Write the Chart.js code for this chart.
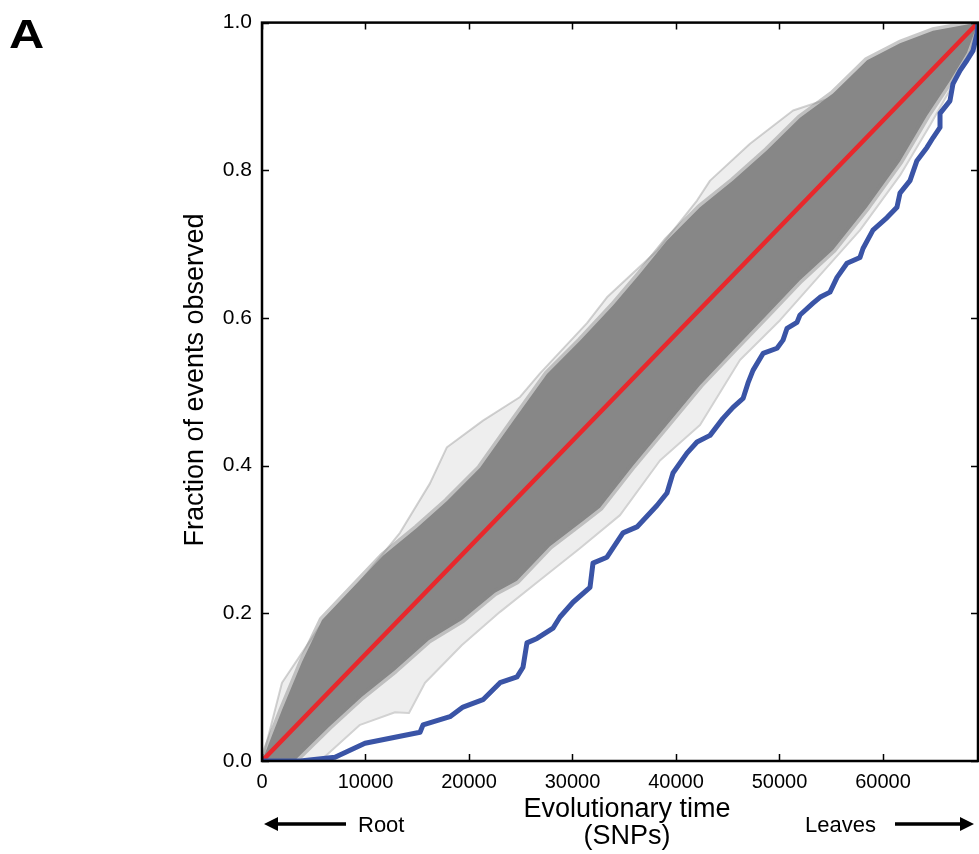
<!DOCTYPE html>
<html lang="en">

<head>
    <meta charset="UTF-8">
    <script src="https://cdn.jsdelivr.net/npm/chart.js@4.4.0/dist/chart.umd.min.js"></script>
    <title>Fraction of events observed</title>
    <style>
        html, body { margin: 0; padding: 0; background: #fff; }
    </style>
</head>

<body>
    <canvas id="myChart" width="979" height="854"></canvas>

    <script>
const xMax = 69180
const xTicks = [0, 10000, 20000, 30000, 40000, 50000, 60000]
const yTicks = [0, 0.2, 0.4, 0.6, 0.8, 1.0]

// observed curve (blue)
const observedX = [0, 3700, 7050, 9950, 15270, 15560, 18160, 19420, 21350, 23000, 24640, 25220, 25600, 26570, 28120, 28790, 30050, 31690, 31980, 33330, 34880, 36230, 38160, 39130, 39710, 41060, 42030, 43290, 44540, 45510, 46480, 46960, 47440, 48410, 49760, 50340, 50730, 51690, 51980, 53240, 53910, 54880, 55560, 56520, 57780, 58070, 59030, 60390, 61350, 61640, 62610, 63280, 64250, 64830, 65510, 65510, 66470, 66760, 67440, 68120, 68700, 69080, 69180]
const observedY = [0, 0, 0.005, 0.024, 0.039, 0.049, 0.060, 0.073, 0.083, 0.106, 0.114, 0.127, 0.160, 0.166, 0.180, 0.195, 0.215, 0.235, 0.268, 0.276, 0.309, 0.317, 0.346, 0.363, 0.390, 0.417, 0.432, 0.441, 0.464, 0.479, 0.491, 0.512, 0.529, 0.552, 0.559, 0.570, 0.586, 0.594, 0.604, 0.620, 0.628, 0.635, 0.655, 0.674, 0.682, 0.694, 0.719, 0.736, 0.750, 0.769, 0.786, 0.813, 0.831, 0.844, 0.858, 0.877, 0.894, 0.917, 0.935, 0.949, 0.962, 0.985, 1.0]

// expected (red)
const expectedX = [0, 69180]
const expectedY = [0, 1]

// dense part of the randomised curves (grey band)
const bandUpperX = [0, 1930, 3860, 5800, 8500, 11690, 14980, 17870, 21060, 24250, 27530, 30720, 33910, 36520, 39130, 42320, 45510, 48790, 51980, 55170, 58460, 61640, 64830, 69180]
const bandUpperY = [0, 0.069, 0.134, 0.191, 0.231, 0.278, 0.316, 0.352, 0.397, 0.460, 0.524, 0.569, 0.617, 0.660, 0.705, 0.750, 0.786, 0.827, 0.871, 0.904, 0.949, 0.972, 0.989, 1.0]
const bandLowerX = [0, 3190, 6470, 9660, 12850, 16140, 19320, 22510, 24640, 27830, 31020, 32660, 35850, 39130, 42320, 45510, 48790, 51980, 55170, 58460, 61640, 64250, 66470, 68120, 69180]
const bandLowerY = [0, 0.001, 0.046, 0.087, 0.123, 0.164, 0.191, 0.228, 0.244, 0.291, 0.325, 0.343, 0.400, 0.455, 0.509, 0.556, 0.604, 0.651, 0.692, 0.750, 0.812, 0.874, 0.921, 0.959, 1.0]

// outermost randomised curves (light grey)
const outerUpperX = [0, 1930, 5510, 9370, 13330, 16230, 17870, 21350, 24930, 26860, 31400, 33330, 38160, 42030, 43290, 47150, 51310, 55170, 61640, 69180]
const outerUpperY = [0, 0.106, 0.181, 0.241, 0.309, 0.376, 0.425, 0.461, 0.493, 0.525, 0.593, 0.628, 0.691, 0.759, 0.786, 0.836, 0.881, 0.899, 0.969, 1.0]
const outerLowerX = [0, 5600, 9470, 12850, 14200, 15750, 19320, 23000, 26860, 30720, 34590, 38450, 42320, 46180, 50050, 53910, 57780, 61640, 64540, 66960, 68410, 69180]
const outerLowerY = [0, 0, 0.049, 0.066, 0.065, 0.106, 0.157, 0.202, 0.245, 0.288, 0.333, 0.407, 0.455, 0.543, 0.597, 0.658, 0.719, 0.793, 0.861, 0.921, 0.962, 1.0]

const toPoints = (xs, ys) => xs.map((x, i) => ({ x: x, y: ys[i] }))
const lineBase = { pointRadius: 0, tension: 0, borderJoinStyle: 'round', borderCapStyle: 'round' }

// frame, inward ticks and the text around the plot
const framePlugin = {
    id: 'frame',
    afterDatasetsDraw(chart) {
        const { ctx, chartArea: a, scales } = chart
        ctx.save()
        ctx.strokeStyle = '#000'
        ctx.lineWidth = 1.5
        ctx.beginPath()
        xTicks.forEach(v => {
            const px = Math.round(scales.x.getPixelForValue(v)) + 0.5
            ctx.moveTo(px, a.bottom); ctx.lineTo(px, a.bottom - 7)
            ctx.moveTo(px, a.top); ctx.lineTo(px, a.top + 7)
        })
        yTicks.forEach(v => {
            const py = Math.round(scales.y.getPixelForValue(v)) + 0.5
            ctx.moveTo(a.left, py); ctx.lineTo(a.left + 7, py)
            ctx.moveTo(a.right, py); ctx.lineTo(a.right - 7, py)
        })
        ctx.stroke()
        ctx.lineWidth = 2.5
        ctx.strokeRect(a.left, a.top, a.right - a.left, a.bottom - a.top)
        ctx.restore()
    },
    afterDraw(chart) {
        const ctx = chart.ctx
        const cx = (chart.chartArea.left + chart.chartArea.right) / 2
        ctx.save()
        ctx.fillStyle = '#000'
        ctx.textAlign = 'left'
        ctx.textBaseline = 'alphabetic'
        ctx.save()
        ctx.translate(9, 48)
        ctx.scale(1.22, 1)
        ctx.font = 'bold 40px "Liberation Sans", Arial, sans-serif'
        ctx.fillText('A', 0, 0)
        ctx.restore()

        ctx.textAlign = 'center'
        ctx.font = '27px "Liberation Sans", Arial, sans-serif'
        ctx.fillText('Evolutionary time', cx + 7, 817)
        ctx.fillText('(SNPs)', cx + 7, 844)

        ctx.save()
        ctx.translate(203, 380)
        ctx.rotate(-Math.PI / 2)
        ctx.fillText('Fraction of events observed', 0, 0)
        ctx.restore()

        ctx.font = '22px "Liberation Sans", Arial, sans-serif'
        ctx.textAlign = 'left'
        ctx.fillText('Root', 358, 832)
        ctx.fillText('Leaves', 805, 832)

        // arrows
        ctx.lineWidth = 3.5
        ctx.strokeStyle = '#000'
        ctx.beginPath()
        ctx.moveTo(274, 824); ctx.lineTo(346, 824)
        ctx.moveTo(895, 824); ctx.lineTo(963, 824)
        ctx.stroke()
        ctx.beginPath()
        ctx.moveTo(264, 824); ctx.lineTo(278, 817); ctx.lineTo(278, 831); ctx.closePath()
        ctx.moveTo(974, 824); ctx.lineTo(960, 817); ctx.lineTo(960, 831); ctx.closePath()
        ctx.fill()
        ctx.restore()
    }
}

const ctx = document.getElementById('myChart').getContext('2d')
const myChart = new Chart(ctx, {
    type: 'line',
    data: {
        datasets: [
            { ...lineBase, label: 'observed', data: toPoints(observedX, observedY), borderColor: '#3a54a6', borderWidth: 5, fill: false, order: 0 },
            { ...lineBase, label: 'expected', data: toPoints(expectedX, expectedY), borderColor: '#e8282c', borderWidth: 4.5, fill: false, order: 1 },
            { ...lineBase, label: 'band upper', data: toPoints(bandUpperX, bandUpperY), borderColor: 'rgba(135,135,135,0.45)', borderWidth: 7, fill: false, order: 3 },
            { ...lineBase, label: 'band lower', data: toPoints(bandLowerX, bandLowerY), borderColor: 'rgba(135,135,135,0.45)', borderWidth: 7, fill: 2, backgroundColor: '#878787', order: 2 },
            { ...lineBase, label: 'outer upper', data: toPoints(outerUpperX, outerUpperY), borderColor: '#d2d2d2', borderWidth: 2, fill: false, order: 5 },
            { ...lineBase, label: 'outer lower', data: toPoints(outerLowerX, outerLowerY), borderColor: '#d2d2d2', borderWidth: 2, fill: 4, backgroundColor: 'rgba(160,160,160,0.18)', order: 4 }
        ]
    },
    options: {
        responsive: false,
        animation: false,
        devicePixelRatio: 1,
        layout: { padding: { top: 22, right: 1, bottom: 0, left: 0 } },
        plugins: {
            legend: { display: false },
            tooltip: { enabled: false }
        },
        scales: {
            x: {
                type: 'linear',
                min: 0,
                max: xMax,
                afterBuildTicks: scale => { scale.ticks = xTicks.map(v => ({ value: v })) },
                afterFit: scale => { scale.height = 93 },
                grid: { display: false, drawTicks: false },
                border: { display: false },
                ticks: {
                    padding: 9,
                    maxRotation: 0,
                    color: '#000',
                    font: { family: '"Liberation Sans", Arial, sans-serif', size: 20 },
                    callback: v => String(v)
                }
            },
            y: {
                type: 'linear',
                min: 0,
                max: 1,
                afterBuildTicks: scale => { scale.ticks = yTicks.map(v => ({ value: v })) },
                afterFit: scale => { scale.width = 262 },
                grid: { display: false, drawTicks: false },
                border: { display: false },
                ticks: {
                    padding: 10,
                    color: '#000',
                    font: { family: '"Liberation Sans", Arial, sans-serif', size: 21 },
                    callback: v => v.toFixed(1)
                }
            }
        }
    },
    plugins: [framePlugin]
})
    </script>
</body>

</html>
